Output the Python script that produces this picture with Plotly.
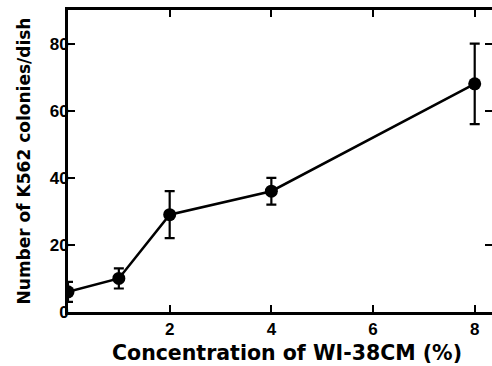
import plotly.graph_objects as go

conc = [0, 1, 2, 4, 8]
colonies = [6, 10, 29, 36, 68]
err = [3, 3, 7, 4, 12]
x_ticks = [2, 4, 6, 8]
y_ticks = [0, 20, 40, 60, 80]

tick_family = "Liberation Sans, Arial, sans-serif"
title_family = "DejaVu Sans, sans-serif"

fig = go.Figure()
fig.add_trace(go.Scatter(
    x=conc, y=colonies,
    mode="lines+markers",
    line=dict(color="black", width=2.5),
    marker=dict(color="black", size=13),
    error_y=dict(type="data", array=err, visible=True, color="black", thickness=2.2, width=5),
    showlegend=False,
))
# invisible trace on right axis for ticks
fig.add_trace(go.Scatter(x=[conc[0]], y=[colonies[0]], yaxis="y2", mode="markers",
                         marker=dict(opacity=0), showlegend=False, hoverinfo="skip"))

fig.update_layout(
    width=492, height=366,
    margin=dict(l=68, r=0, t=10, b=54),
    plot_bgcolor="white", paper_bgcolor="white",
    font=dict(family=tick_family, color="black", size=16),
    xaxis=dict(
        range=[0, 8.34], tickvals=x_ticks, ticktext=[str(v) for v in x_ticks],
        ticks="inside", ticklen=7, tickwidth=2, tickcolor="black",
        showline=True, linewidth=3, linecolor="black", mirror="ticks",
        showgrid=False, zeroline=False,
        tickfont=dict(size=17, family=tick_family, weight="bold"),
    ),
    yaxis=dict(
        range=[0, 90], tickvals=y_ticks,
        ticks="inside", ticklen=7, tickwidth=2, tickcolor="black",
        showline=True, linewidth=3, linecolor="black", mirror=False,
        showgrid=False, zeroline=False, ticklabelstandoff=-7,
        tickfont=dict(size=17, family=tick_family, weight="bold"),
        title=dict(text="Number of K562 colonies/dish",
                   font=dict(size=17, family=title_family, weight="bold"), standoff=15),
    ),
    yaxis2=dict(
        range=[0, 90], tickvals=[20, 60, 80], overlaying="y", side="right",
        ticks="inside", ticklen=7, tickwidth=2, tickcolor="black",
        showline=False, showticklabels=False, showgrid=False, zeroline=False,
    ),
    annotations=[dict(
        text="Concentration of WI-38CM (%)", xref="paper", yref="paper",
        x=0.516, y=0, yshift=-41, xanchor="center", yanchor="middle", showarrow=False,
        font=dict(size=20.5, family=title_family, weight="bold"),
    )],
)

fig.write_html("out.html")
